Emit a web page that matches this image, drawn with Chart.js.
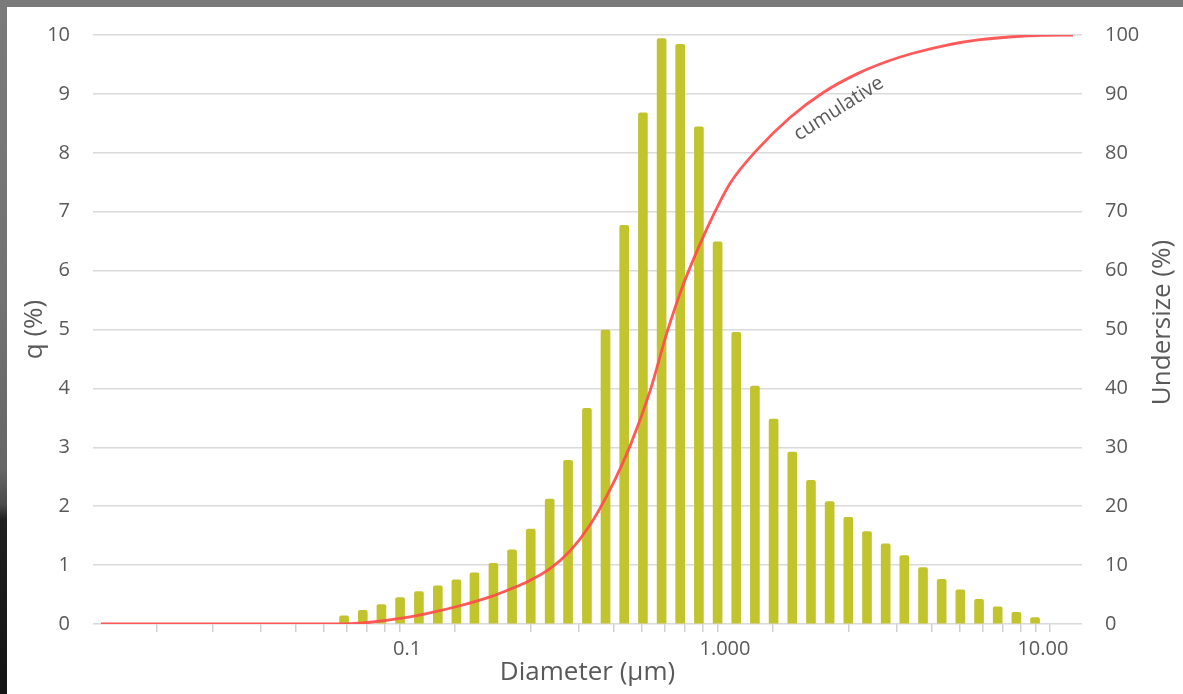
<!DOCTYPE html>
<html>
<head>
<meta charset="utf-8">
<title>Particle size distribution</title>
<script src="https://cdn.jsdelivr.net/npm/chart.js@4.4.1/dist/chart.umd.min.js"></script>
<style>
  html, body { margin: 0; padding: 0; width: 1183px; height: 694px; overflow: hidden; }
  body {
    background: linear-gradient(to bottom, #7a7a7a 0px, #727272 300px, #666666 470px, #4a4a4a 505px, #1f1f1f 520px, #141414 694px);
  }
  #panel { position: absolute; left: 7px; top: 7px; width: 1176px; height: 687px; background: #ffffff; }
  canvas { display: block; }
</style>
</head>
<body>
<div id="panel"><canvas id="psd" width="1176" height="687"></canvas></div>
<script>
// Size classes (µm) and frequency q (%) per class
const diameters = [0.0634, 0.0726, 0.0831, 0.0951, 0.109, 0.125, 0.143, 0.163, 0.187, 0.214,
                   0.245, 0.281, 0.321, 0.368, 0.421, 0.482, 0.552, 0.632, 0.723, 0.828,
                   0.948, 1.085, 1.242, 1.422, 1.628, 1.864, 2.134, 2.443, 2.797, 3.202,
                   3.665, 4.196, 4.804, 5.499, 6.296, 7.207, 8.251, 9.446];
const qValues = [0.14, 0.23, 0.33, 0.45, 0.55, 0.65, 0.75, 0.87, 1.03, 1.26,
                 1.61, 2.12, 2.78, 3.66, 4.99, 6.77, 8.68, 9.94, 9.84, 8.44,
                 6.49, 4.95, 4.04, 3.48, 2.92, 2.44, 2.08, 1.81, 1.57, 1.36,
                 1.16, 0.96, 0.76, 0.58, 0.42, 0.29, 0.20, 0.11];

// Cumulative undersize curve (%)
const cumDiameters = [0.0109, 0.0607, 0.0686, 0.0765, 0.0951, 0.1181, 0.1468, 0.1824, 0.2108, 0.2436,
                      0.2817, 0.3256, 0.3763, 0.4349, 0.5026, 0.5808, 0.6573, 0.7379, 0.8345, 0.9302,
                      1.037, 1.261, 1.602, 2.033, 2.601, 3.232, 3.901, 4.991, 6.339, 8.048,
                      10.0, 12.43];
const cumValues = [0, 0, 0.1, 0.3, 0.95, 1.9, 3.1, 4.6, 5.9, 7.4,
                   9.4, 12.4, 16.8, 22.8, 30.2, 39.5, 49.5, 57.5, 64.5, 70.0,
                   74.8, 80.5, 86.0, 90.2, 93.4, 95.5, 96.9, 98.3, 99.2, 99.7,
                   99.95, 100];

// Axis ticks
const xMajorTicks = [0.1, 1, 10];
const xMajorLabels = ['0.1', '1.000', '10.00'];
const xMinorTicks = [0.02, 0.03, 0.04, 0.05, 0.06, 0.07, 0.08, 0.09,
                     0.2, 0.3, 0.4, 0.5, 0.6, 0.7, 0.8, 0.9,
                     2, 3, 4, 5, 6, 7, 8, 9];

const TEXT = '#595959';
const FONT = 'Open Sans';

const barPoints = diameters.map((d, i) => ({ x: d, y: qValues[i] }));
const cumPoints = cumDiameters.map((d, i) => ({ x: d, y: cumValues[i] }));

// Vertical axes: fixed width, and no extra room reserved above/below for tick labels
function fixVertical(width) {
  return function (scale) {
    scale.width = width;
    scale.paddingTop = 0;
    scale.paddingBottom = 0;
  };
}

// Rotated right-hand title and the in-plot curve label
const annotations = {
  id: 'annotations',
  afterDraw(chart) {
    const { ctx, chartArea, scales } = chart;
    ctx.save();
    ctx.fillStyle = TEXT;
    ctx.textAlign = 'center';
    ctx.textBaseline = 'middle';

    ctx.font = `26px "${FONT}"`;
    ctx.save();
    ctx.translate(scales.y1.right - 20, (chartArea.top + chartArea.bottom) / 2 - 7);
    ctx.rotate(-Math.PI / 2);
    ctx.fillText('Undersize (%)', 0, 0);
    ctx.restore();

    ctx.font = `20px "${FONT}"`;
    ctx.save();
    ctx.translate(scales.x.getPixelForValue(2.28), scales.y1.getPixelForValue(87.5));
    ctx.rotate(-32.5 * Math.PI / 180);
    ctx.fillText('cumulative', 0, 0);
    ctx.restore();

    ctx.restore();
  }
};

new Chart(document.getElementById('psd'), {
  type: 'bar',
  data: {
    datasets: [
      {
        type: 'line',
        label: 'cumulative',
        data: cumPoints,
        yAxisID: 'y1',
        borderColor: 'rgba(255, 75, 75, 0.92)',
        borderWidth: 2.8,
        pointRadius: 0,
        fill: false,
        cubicInterpolationMode: 'monotone',
        order: 0
      },
      {
        type: 'bar',
        label: 'q',
        data: barPoints,
        yAxisID: 'y',
        backgroundColor: '#c2c42e',
        barThickness: 9,
        borderRadius: { topLeft: 2, topRight: 2 },
        borderSkipped: 'start',
        order: 1
      }
    ]
  },
  options: {
    responsive: false,
    animation: false,
    layout: { padding: { top: 28, left: 0, right: 0, bottom: 0 } },
    plugins: { legend: { display: false }, tooltip: { enabled: false } },
    scales: {
      x: {
        type: 'logarithmic',
        position: 'bottom',
        min: 0.01029,
        max: 13.27,
        offset: false,
        border: { display: false },
        grid: {
          drawOnChartArea: false,
          drawTicks: true,
          tickLength: 8,
          tickColor: '#d0d0d0',
          lineWidth: 1.5
        },
        afterBuildTicks(scale) {
          scale.ticks = xMinorTicks.concat(xMajorTicks).sort((a, b) => a - b).map(v => ({ value: v }));
        },
        afterFit(scale) { scale.height = 70; scale.paddingLeft = 0; scale.paddingRight = 0; },
        ticks: {
          autoSkip: false,
          maxRotation: 0,
          padding: 5,
          color: TEXT,
          font: { family: FONT, size: 20 },
          callback(value) {
            const i = xMajorTicks.findIndex(t => Math.abs(t - value) < 1e-9);
            return i >= 0 ? xMajorLabels[i] : '';
          }
        },
        title: {
          display: true,
          text: 'Diameter (μm)',
          color: TEXT,
          font: { family: FONT, size: 26 },
          padding: { top: 0, bottom: 6 }
        }
      },
      y: {
        position: 'left',
        min: 0,
        max: 10,
        border: { display: false },
        grid: { color: '#dadada', lineWidth: 1.5, drawTicks: false },
        afterFit: fixVertical(86),
        ticks: {
          stepSize: 1,
          padding: 23,
          color: TEXT,
          font: { family: FONT, size: 20 }
        },
        title: {
          display: true,
          text: 'q (%)',
          color: TEXT,
          font: { family: FONT, size: 26 },
          padding: { top: 12, bottom: 0 }
        }
      },
      y1: {
        position: 'right',
        min: 0,
        max: 100,
        border: { display: false },
        grid: { drawOnChartArea: false, drawTicks: false },
        afterFit: fixVertical(101),
        ticks: {
          stepSize: 10,
          padding: 23,
          color: TEXT,
          font: { family: FONT, size: 20 }
        }
      }
    }
  },
  plugins: [annotations]
});
</script>
</body>
</html>
